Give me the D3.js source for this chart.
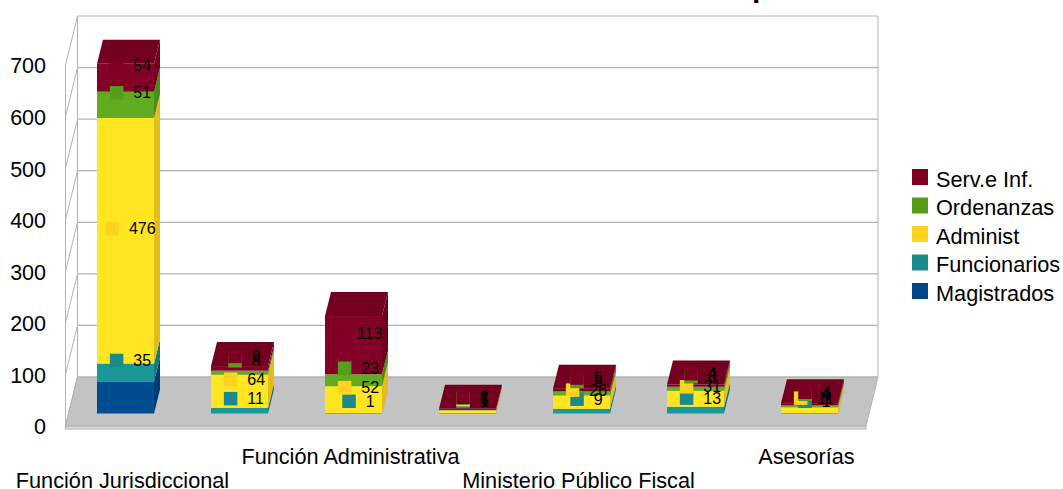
<!DOCTYPE html>
<html>
<head>
<meta charset="utf-8">
<script src="https://cdn.jsdelivr.net/npm/d3@7"></script>
<style>
  html, body { margin: 0; padding: 0; background: #fff; overflow: hidden; }
  svg text { font-family: "Liberation Sans", Arial, sans-serif; fill: #000; }
</style>
</head>
<body>
<div id="chart"></div>
<script>
// Datos del grafico
const categories = ['Función Jurisdiccional', '', 'Función Administrativa', '', 'Ministerio Público Fiscal', '', 'Asesorías'];
const magistrados = [62, 0, 0, 0, 0, 0, 0];
const funcionarios = [35, 11, 1, 1, 9, 13, 1];
const administ = [476, 64, 52, 5, 26, 31, 11];
const ordenanzas = [51, 8, 23, 1, 8, 8, 4];
const servInf = [54, 9, 113, 2, 5, 4, 4];
const ticks = [0, 100, 200, 300, 400, 500, 600, 700];

const width = 1063, height = 489;
const depthX = 6, depthY = 24;   // profundidad de las barras
const wallX = 12, wallY = 49;    // profundidad del piso

const series = [
  { name: 'Magistrados', values: magistrados, key: '#004586', front: '#004c91', side: '#003d78', top: '#003d78', labels: false },
  { name: 'Funcionarios', values: funcionarios, key: '#1b8a8c', front: '#1c9799', side: '#157a7c', top: '#157a7c', labels: true },
  { name: 'Administ', values: administ, key: '#ffd320', front: '#ffe620', side: '#e3bb1b', top: '#e3bb1b', labels: true },
  { name: 'Ordenanzas', values: ordenanzas, key: '#579d1c', front: '#60ab1e', side: '#4d8b18', top: '#4d8b18', labels: true },
  { name: 'Serv.e Inf.', values: servInf, key: '#7e0021', front: '#830026', side: '#70001d', top: '#74001f', labels: true }
];

const svg = d3.select('#chart').append('svg')
  .attr('width', width)
  .attr('height', height);

// Escalas
const x = d3.scaleBand()
  .domain(d3.range(categories.length))
  .range([68.5, 866.5])
  .paddingInner(0.5)
  .paddingOuter(0.25);

const yFront = d3.scaleLinear().domain([0, 700]).range([426, 65]);
const yBack = d3.scaleLinear().domain([0, 700]).range([377, 16]);
const baseY = 413.5;
const px = v => yFront(0) - yFront(v);

const leftFront = 65.5, leftBack = leftFront + wallX;
const rightBack = 878, rightFront = rightBack - wallX;
const gridColor = '#b3b3b3';

// Piso
svg.append('rect')
  .attr('x', leftFront).attr('y', yFront(0))
  .attr('width', rightFront - leftFront).attr('height', 3)
  .attr('fill', '#dcdcdc').attr('stroke', gridColor);

svg.append('polygon')
  .attr('points', [[leftFront, yFront(0)], [leftBack, yBack(0)], [rightBack, yBack(0)], [rightFront, yFront(0)]].join(' '))
  .attr('fill', '#c3c3c3').attr('stroke', gridColor);

// Paredes y grilla
svg.selectAll('.grid').data(ticks).enter().append('line')
  .attr('class', 'grid')
  .attr('x1', leftBack).attr('x2', rightBack)
  .attr('y1', d => yBack(d)).attr('y2', d => yBack(d))
  .attr('stroke', gridColor).attr('stroke-width', 1.2);

svg.selectAll('.grid-left').data(ticks).enter().append('line')
  .attr('class', 'grid-left')
  .attr('x1', leftFront).attr('x2', leftBack)
  .attr('y1', d => yBack(d) + wallY).attr('y2', d => yBack(d))
  .attr('stroke', gridColor);

svg.append('line').attr('x1', leftBack).attr('x2', leftBack)
  .attr('y1', yBack(700)).attr('y2', yBack(0)).attr('stroke', gridColor);
svg.append('line').attr('x1', rightBack).attr('x2', rightBack)
  .attr('y1', yBack(700)).attr('y2', yBack(0)).attr('stroke', gridColor);
svg.append('line').attr('x1', leftFront).attr('x2', leftFront)
  .attr('y1', yBack(700) + wallY).attr('y2', yFront(0)).attr('stroke', gridColor);

// Barras apiladas
const w = x.bandwidth();
const labelItems = [];

categories.forEach((c, i) => {
  const g = svg.append('g').attr('class', 'bar');
  const x0 = x(i);
  let acum = 0;
  let lastTop = null;

  series.forEach(s => {
    const v = s.values[i];
    if (!v) return;
    const y0 = baseY - px(acum);
    const y1 = baseY - px(acum + v);
    acum += v;

    g.append('polygon')
      .attr('points', [[x0 + w, y0], [x0 + w + depthX, y0 - depthY], [x0 + w + depthX, y1 - depthY], [x0 + w, y1]].join(' '))
      .attr('fill', s.side);

    g.append('rect')
      .attr('x', x0).attr('y', y1)
      .attr('width', w).attr('height', y0 - y1)
      .attr('fill', s.front);

    lastTop = { y: y1, fill: s.top };

    if (s.labels) {
      labelItems.push({ i, value: v, key: s.key, cy: (y0 + y1) / 2 - depthY / 2 });
    }
  });

  g.append('polygon')
    .attr('points', [[x0, lastTop.y], [x0 + depthX, lastTop.y - depthY], [x0 + w + depthX, lastTop.y - depthY], [x0 + w, lastTop.y]].join(' '))
    .attr('fill', lastTop.fill);
});

// Rotulos con su clave de color
const keySize = 13.5, keyGap = 10, digitW = 8.9;
const labelLeft = d => x(d.i) + w / 2 + depthX / 2 + 2 - (keySize + keyGap + String(d.value).length * digitW) / 2;

svg.selectAll('.key').data(labelItems).enter().append('rect')
  .attr('class', 'key')
  .attr('x', labelLeft)
  .attr('y', d => d.cy - keySize / 2)
  .attr('width', keySize).attr('height', keySize)
  .attr('fill', d => d.key);

svg.selectAll('.value').data(labelItems).enter().append('text')
  .attr('class', 'value')
  .attr('x', d => labelLeft(d) + keySize + keyGap)
  .attr('y', d => d.cy + 5.5)
  .style('font-size', '16px')
  .text(d => d.value);

// Eje Y
const yAxis = svg.append('g')
  .attr('transform', 'translate(46,0.4)')
  .call(d3.axisLeft(yFront).tickValues(ticks).tickSize(0).tickPadding(0));
yAxis.select('.domain').remove();
yAxis.selectAll('text')
  .attr('dy', '0.35em')
  .style('font-size', '21.5px');

// Categorias, alternadas en dos filas
svg.selectAll('.cat').data(categories).enter().append('text')
  .attr('class', 'cat')
  .attr('x', (d, i) => x(i) + w / 2 - 3)
  .attr('y', (d, i) => i % 4 === 0 ? 488 : 464)
  .attr('text-anchor', 'middle')
  .style('font-size', '21.7px')
  .text(d => d);

// Leyenda
const legend = svg.selectAll('.legend').data(series.slice().reverse()).enter().append('g')
  .attr('class', 'legend')
  .attr('transform', (d, i) => `translate(912,${169 + i * 28.5})`);

legend.append('rect')
  .attr('width', 16).attr('height', 16)
  .attr('fill', d => d.key);

legend.append('text')
  .attr('x', 24).attr('y', 17.5)
  .style('font-size', '21.7px')
  .text(d => d.name);

// Resto del titulo, cortado por el borde superior
svg.append('text')
  .attr('x', 752).attr('y', -3)
  .style('font-size', '30px')
  .style('font-weight', 'bold')
  .text('p');
</script>
</body>
</html>
